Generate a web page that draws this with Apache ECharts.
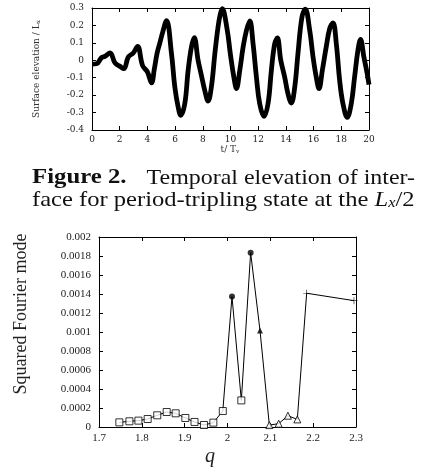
<!DOCTYPE html>
<html><head><meta charset="utf-8">
<script src="https://cdn.jsdelivr.net/npm/echarts@6/dist/echarts.min.js"></script>
<style>html,body{margin:0;padding:0;background:#fff}#c{width:421px;height:473px}</style>
</head><body><div id="c"></div>
<script>
// ---- Top chart: surface elevation vs time ----
const timeT = [0,0.33,0.69,0.93,1.3,1.66,2.02,2.3,2.62,2.98,3.29,3.65,4.0,4.3,4.5,4.7,4.9,5.1,5.38,5.74,5.98,6.22,6.41,6.7,6.94,7.18,7.38,7.66,7.9,8.14,8.38,8.62,8.87,9.1,9.25,9.4,9.75,10.0,10.25,10.43,10.67,10.91,11.15,11.39,11.63,11.87,12.11,12.42,12.71,12.95,13.19,13.38,13.63,13.91,14.15,14.39,14.64,14.87,15.16,15.4,15.72,15.96,16.19,16.39,16.63,16.91,17.16,17.4,17.64,17.88,18.12,18.43,18.72,18.96,19.2,19.39,19.63,19.87,20];
const elevation = [-0.022,-0.02,0.015,0.022,0.042,-0.015,-0.035,-0.048,0.019,0.042,0.08,-0.03,-0.067,-0.13,-0.05,0.04,0.1,0.16,0.228,0.038,-0.153,-0.268,-0.316,-0.249,-0.058,0.076,0.13,0.0,-0.087,-0.173,-0.234,-0.153,0.038,0.191,0.26,0.296,0.18,0.03,-0.1,-0.162,-0.058,0.076,0.171,0.226,0.095,-0.096,-0.249,-0.322,-0.249,-0.058,0.095,0.128,0.0,-0.096,-0.192,-0.245,-0.153,0.038,0.248,0.293,0.171,0.019,-0.096,-0.163,-0.058,0.076,0.181,0.215,0.095,-0.115,-0.249,-0.328,-0.249,-0.096,0.057,0.12,0.019,-0.077,-0.14];

// ---- Bottom chart: squared Fourier mode vs q ----
const qSquare = [1.7475,1.771,1.792,1.8136,1.836,1.858,1.879,1.9016,1.923,1.945,1.967,1.989,2.0323];
const vSquare = [0.000049,0.00006,0.000067,0.000084,0.000123,0.000158,0.000144,0.000095,0.000053,0.000021,0.000046,0.000168,0.00028];
const qCircle = [2.0105,2.054];
const vCircle = [0.001373,0.001835];
const qTriFilled = [2.0759];
const vTriFilled = [0.001016];
const qTriOpen = [2.0977,2.1195,2.141,2.163];
const vTriOpen = [0.00002,0.000035,0.000119,0.00008];
const qPlus = [2.1848,2.2953];
const vPlus = [0.001408,0.00133];

const zip = (a,b) => a.map((x,i)=>[x,b[i]]);
const allPts = [].concat(zip(qSquare,vSquare),zip(qCircle,vCircle),zip(qTriFilled,vTriFilled),zip(qTriOpen,vTriOpen),zip(qPlus,vPlus)).sort((a,b)=>a[0]-b[0]);

const serifS = 'DejaVu Serif';
const serifT = 'Liberation Serif';

function mkAxis(opts){
  return Object.assign({
    type:'value', splitLine:{show:false},
    axisLine:{show:true,onZero:false,lineStyle:{color:'#000',width:1}},
    axisTick:{show:true,inside:true,length:4,lineStyle:{color:'#000'}},
  }, opts);
}

const chart = echarts.init(document.getElementById('c'), null, {renderer:'canvas'});
chart.setOption({
  animation:false,
  backgroundColor:'#fff',
  grid:[
    {left:92,top:8,width:277,height:122},
    {left:99,top:237,width:257,height:190}
  ],
  xAxis:[
    mkAxis({gridIndex:0,min:0,max:20,interval:2,position:'bottom',
      axisLabel:{show:true,margin:5,fontFamily:serifS,fontSize:9,color:'#222',showMinLabel:true,showMaxLabel:true}}),
    mkAxis({gridIndex:0,min:0,max:20,interval:2,position:'top',axisLabel:{show:false}}),
    mkAxis({gridIndex:1,min:1.7,max:2.3,interval:0.1,position:'bottom',
      axisLabel:{show:true,margin:6,fontFamily:serifT,fontSize:11,color:'#222',showMinLabel:true,showMaxLabel:true,
        formatter:v=>String(+v.toFixed(1))}}),
    mkAxis({gridIndex:1,min:1.7,max:2.3,interval:0.1,position:'top',axisLabel:{show:false}})
  ],
  yAxis:[
    mkAxis({gridIndex:0,min:-0.4,max:0.3,interval:0.1,position:'left',
      axisLabel:{show:true,margin:8,fontFamily:serifS,fontSize:9,color:'#222',showMinLabel:true,showMaxLabel:true,
        formatter:v=>String(+v.toFixed(1))}}),
    mkAxis({gridIndex:0,min:-0.4,max:0.3,interval:0.1,position:'right',axisLabel:{show:false}}),
    mkAxis({gridIndex:1,min:0,max:0.002,interval:0.0002,position:'left',
      axisLabel:{show:true,margin:8,fontFamily:serifT,fontSize:11,color:'#222',showMinLabel:true,showMaxLabel:true,
        formatter:v=>String(+v.toFixed(4))}}),
    mkAxis({gridIndex:1,min:0,max:0.002,interval:0.0002,position:'right',axisLabel:{show:false}})
  ],
  series:[
    {type:'line',xAxisIndex:0,yAxisIndex:0,data:zip(timeT,elevation),showSymbol:false,smooth:0.4,
      lineStyle:{color:'#000',width:4.8},z:3},
    {type:'line',xAxisIndex:2,yAxisIndex:2,data:allPts,showSymbol:false,
      lineStyle:{color:'#000',width:1},z:2},
    {type:'scatter',xAxisIndex:2,yAxisIndex:2,data:zip(qSquare,vSquare),symbol:'rect',symbolSize:7,
      itemStyle:{color:'#fff',borderColor:'#000',borderWidth:1},z:4},
    {type:'scatter',xAxisIndex:2,yAxisIndex:2,data:zip(qCircle,vCircle),symbol:'circle',symbolSize:6,
      itemStyle:{color:'#000'},z:4},
    {type:'scatter',xAxisIndex:2,yAxisIndex:2,data:zip(qTriFilled,vTriFilled),symbol:'triangle',symbolSize:6,
      itemStyle:{color:'#000'},z:4},
    {type:'scatter',xAxisIndex:2,yAxisIndex:2,data:zip(qTriOpen,vTriOpen),symbol:'triangle',symbolSize:7,
      itemStyle:{color:'#fff',borderColor:'#000',borderWidth:1},z:4},
    {type:'scatter',xAxisIndex:2,yAxisIndex:2,data:zip(qPlus,vPlus),symbol:'path://M4.5,0H5.5V10H4.5Z M0,4.5H10V5.5H0Z',symbolSize:7,
      itemStyle:{color:'#000'},z:4}
  ],
  graphic:[
    {type:'text',x:37,y:69,rotation:Math.PI/2,style:{
      text:'Surface elevation / L{s|x}',
      font:'9px "DejaVu Serif"',fill:'#333',align:'center',verticalAlign:'middle',
      rich:{s:{fontSize:6,fontFamily:serifS,verticalAlign:'bottom',fill:'#333'}}}},
    {type:'text',x:230,y:150,style:{
      text:'t/ T{s|v}',font:'9px "DejaVu Serif"',fill:'#333',align:'center',verticalAlign:'middle',
      rich:{s:{fontSize:6,fontFamily:serifS,verticalAlign:'bottom',fill:'#333'}}}},
    {type:'text',x:21,y:314,rotation:Math.PI/2,style:{
      text:'Squared Fourier mode',font:'18px "Liberation Serif"',fill:'#222',align:'center',verticalAlign:'middle'}},
    {type:'text',x:210,y:457,style:{
      text:'q',font:'italic 20px "Liberation Serif"',fill:'#222',align:'center',verticalAlign:'middle'}},
    {type:'text',x:32,y:178,scaleX:1.18,style:{
      text:'Figure 2.',font:'bold 21px "Liberation Serif"',fill:'#111',align:'left',verticalAlign:'middle'}},
    {type:'text',x:415,y:178,scaleX:1.14,style:{
      text:'Temporal elevation of inter-',font:'21px "Liberation Serif"',fill:'#111',align:'right',verticalAlign:'middle'}},
    {type:'text',x:32,y:200,scaleX:1.17,style:{
      text:'face for period-tripling state at the {i|L}{s|x}/2',font:'21px "Liberation Serif"',fill:'#111',align:'left',verticalAlign:'middle',
      rich:{i:{fontStyle:'italic',fontSize:21,fontFamily:serifT,fill:'#111'},s:{fontStyle:'italic',fontSize:14,fontFamily:serifT,verticalAlign:'bottom',fill:'#111'}}}}
  ]
});
</script>
</body></html>
